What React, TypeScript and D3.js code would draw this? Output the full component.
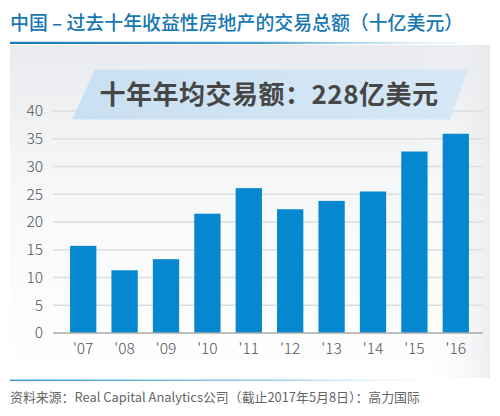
import React from "react";
import * as d3 from "d3";

const years = ["'07", "'08", "'09", "'10", "'11", "'12", "'13", "'14", "'15", "'16"];
const volumes = [15.7, 11.3, 13.3, 21.5, 26.1, 22.3, 23.8, 25.5, 32.7, 35.9];
const yTicks = [0, 5, 10, 15, 20, 25, 30, 35, 40];
const titleText = "中国 – 过去十年收益性房地产的交易总额（十亿美元）";
const bannerText = "十年年均交易额：228亿美元";
const sourceText = "资料来源：Real Capital Analytics公司（截止2017年5月8日）：高力国际";

const W = 500;
const H = 416;
const FONT = "'Noto Sans CJK SC', 'Noto Sans', sans-serif";

export default function App() {
  const x = d3.scaleBand<string>().domain(years).range([62.5, 476.5]).paddingInner(0.365).paddingOuter(0.1825);
  const y = d3.scaleLinear().domain([0, 40]).range([333, 111]);
  const gridX0 = 53;
  const gridX1 = 483;

  return (
    <svg width={W} height={H} style={{ position: "absolute", left: 0, top: 0, display: "block", background: "#fff" }}>
      <defs>
        <linearGradient id="panel" x1="0" y1="0" x2="0" y2="1">
          <stop offset="0" stopColor="#e9ebee" />
          <stop offset="0.45" stopColor="#f7f8f9" />
          <stop offset="1" stopColor="#ffffff" />
        </linearGradient>
        <linearGradient id="panelH" x1="0" y1="0" x2="1" y2="0">
          <stop offset="0" stopColor="#ffffff" stopOpacity="0" />
          <stop offset="0.85" stopColor="#ffffff" stopOpacity="0" />
          <stop offset="1" stopColor="#e6e8eb" stopOpacity="0.7" />
        </linearGradient>
        <linearGradient id="uline" x1="0" y1="0" x2="1" y2="0">
          <stop offset="0" stopColor="#1677b3" />
          <stop offset="0.55" stopColor="#4aa0d3" />
          <stop offset="1" stopColor="#d8ebf7" stopOpacity="0.2" />
        </linearGradient>
        <linearGradient id="fline" x1="0" y1="0" x2="1" y2="0">
          <stop offset="0" stopColor="#3a9bd0" />
          <stop offset="0.6" stopColor="#a9d2ea" />
          <stop offset="1" stopColor="#ffffff" stopOpacity="0" />
        </linearGradient>
        <linearGradient id="banner" x1="0" y1="0" x2="1" y2="0">
          <stop offset="0" stopColor="#c9e0f2" />
          <stop offset="1" stopColor="#d6e8f6" />
        </linearGradient>
      </defs>

      <text x={10} y={30} fontFamily={FONT} fontSize={18.9} fill="#1677b3" fontWeight={500}>
        {titleText}
      </text>

      <rect x={10} y={45} width={480} height={333} fill="url(#panel)" />
      <rect x={10} y={45} width={480} height={333} fill="url(#panelH)" />
      <rect x={10} y={41.8} width={460} height={2.2} fill="url(#uline)" />

      {yTicks.map((t) => (
        <g key={t}>
          {t > 0 && (
            <line x1={gridX0} x2={gridX1} y1={y(t)} y2={y(t)} stroke="#dcdddf" strokeWidth={1.3} />
          )}
          <text x={43} y={y(t)} dy="0.35em" textAnchor="end" fontFamily={FONT} fontWeight={300} fontSize={15.5} fill="#555">
            {t}
          </text>
        </g>
      ))}

      <path d="M95,69.5 L468,69.5 L450,119.5 L72,119.5 Z" fill="url(#banner)" />
      <text x={269} y={95} dy="0.36em" textAnchor="middle" fontFamily={FONT} fontWeight={700} fontSize={26} fill="#474747" letterSpacing={0.5}>
        {bannerText}
      </text>

      {years.map((yr, i) => (
        <rect key={yr} x={x(yr)} y={y(volumes[i])} width={x.bandwidth()} height={y(0) - y(volumes[i])} fill="#0688d0" />
      ))}

      <line x1={gridX0} x2={gridX1} y1={y(0)} y2={y(0)} stroke="#a8aaad" strokeWidth={1.6} />

      {years.map((yr) => (
        <text key={yr} x={(x(yr) as number) + x.bandwidth() / 2} y={349} dy="0.35em" textAnchor="middle" fontFamily={FONT} fontWeight={300} fontSize={15.5} fill="#555">
          {yr}
        </text>
      ))}

      <rect x={10} y={379.5} width={462} height={1.6} fill="url(#fline)" />
      <text x={10} y={397} dy="0.35em" fontFamily={FONT} fontSize={12.9} fontWeight={400} fill="#666">
        {sourceText}
      </text>
    </svg>
  );
}
